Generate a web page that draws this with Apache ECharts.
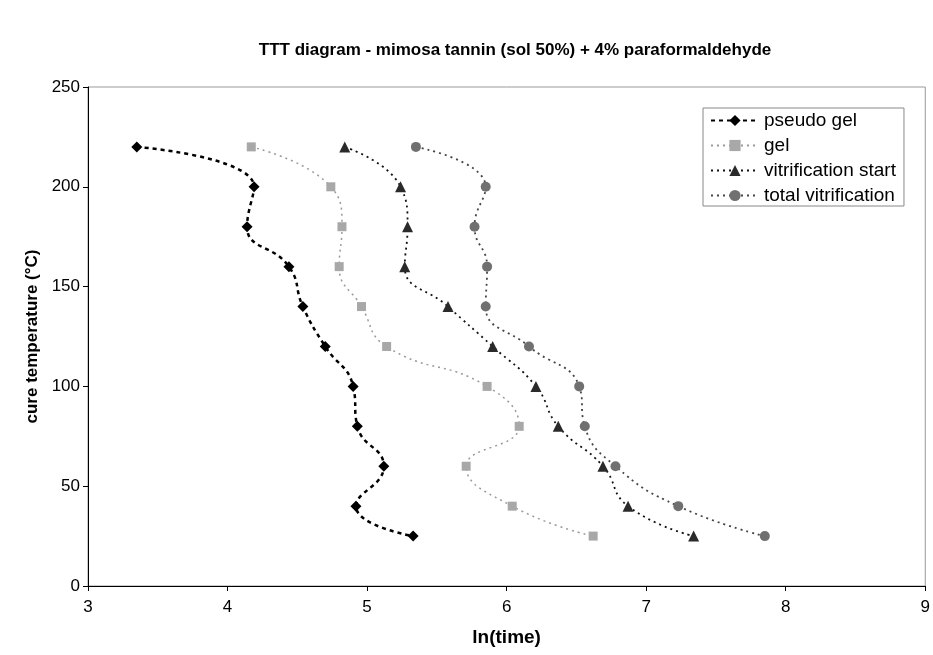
<!DOCTYPE html>
<html>
<head>
<meta charset="utf-8">
<script src="https://cdn.jsdelivr.net/npm/echarts@6/dist/echarts.min.js"></script>
<style>html,body{margin:0;padding:0;background:#fff}#c{width:933px;height:655px}</style>
</head>
<body>
<div id="c"></div>
<script>
const temperatures = [220, 200, 180, 160, 140, 120, 100, 80, 60, 40, 25];
const pseudoGel = [3.35, 4.19, 4.14, 4.44, 4.54, 4.70, 4.90, 4.93, 5.12, 4.92, 5.33];
const gel = [4.17, 4.74, 4.82, 4.80, 4.96, 5.14, 5.86, 6.09, 5.71, 6.04, 6.62];
const vitrificationStart = [4.84, 5.24, 5.29, 5.27, 5.58, 5.90, 6.21, 6.37, 6.69, 6.87, 7.34];
const totalVitrification = [5.35, 5.85, 5.77, 5.86, 5.85, 6.16, 6.52, 6.56, 6.78, 7.23, 7.85];
const seriesNames = ['pseudo gel', 'gel', 'vitrification start', 'total vitrification'];
const xTicks = [3, 4, 5, 6, 7, 8, 9];
const yTicks = [0, 50, 100, 150, 200, 250];

const pair = arr => arr.map((x, i) => [x, temperatures[i]]);
const FONT = '"Liberation Sans", Arial, sans-serif';

const styles = [
  {symbol: 'diamond', size: 11, color: '#000', line: '#000', width: 2.5, dash: [4, 4]},
  {symbol: 'rect', size: 9, color: '#a8a8a8', line: '#9a9a9a', width: 1.5, dash: [2, 4]},
  {symbol: 'triangle', size: 11, color: '#2a2a2a', line: '#111', width: 1.8, dash: [2, 4]},
  {symbol: 'circle', size: 10, color: '#707070', line: '#444', width: 1.8, dash: [2, 4]}
];
const datasets = [pseudoGel, gel, vitrificationStart, totalVitrification];

const chart = echarts.init(document.getElementById('c'), null, {renderer: 'canvas'});
chart.setOption({
  backgroundColor: '#fff',
  animation: false,
  title: {
    text: 'TTT diagram - mimosa tannin (sol 50%) + 4% paraformaldehyde',
    left: 510, top: 37, textAlign: 'center',
    textStyle: {fontFamily: FONT, fontSize: 17, fontWeight: 'bold', color: '#000'}
  },
  grid: {left: 88, right: 4, top: 87, bottom: 69, show: true, borderColor: '#999', borderWidth: 1},
  legend: {
    orient: 'vertical', left: 703, top: 108,
    data: seriesNames,
    itemWidth: 48, itemHeight: 14, itemGap: 6,
    padding: [3, 8, 1, 7],
    borderColor: '#888', borderWidth: 1,
    backgroundColor: '#fff',
    textStyle: {fontFamily: FONT, fontSize: 19, lineHeight: 19, color: '#000'}
  },
  xAxis: {
    type: 'value', min: xTicks[0], max: xTicks[xTicks.length - 1], interval: 1,
    name: 'ln(time)', nameLocation: 'middle', nameGap: 42,
    nameTextStyle: {fontFamily: FONT, fontSize: 19, fontWeight: 'bold', color: '#000'},
    axisLine: {lineStyle: {color: '#000', width: 1}},
    axisTick: {show: true, length: 5, lineStyle: {color: '#000'}},
    axisLabel: {fontFamily: FONT, fontSize: 17, color: '#000', margin: 13},
    splitLine: {show: false}
  },
  yAxis: {
    type: 'value', min: yTicks[0], max: yTicks[yTicks.length - 1], interval: 50,
    name: 'cure temperature (°C)', nameLocation: 'middle', nameGap: 40, nameRotate: 90,
    nameTextStyle: {fontFamily: FONT, fontSize: 17, fontWeight: 'bold', color: '#000'},
    axisLine: {show: true, lineStyle: {color: '#000', width: 1}},
    axisTick: {show: true, length: 5, lineStyle: {color: '#000'}},
    axisLabel: {fontFamily: FONT, fontSize: 17, color: '#000', margin: 8},
    splitLine: {show: false}
  },
  series: datasets.map((d, i) => ({
    name: seriesNames[i],
    type: 'line',
    data: pair(d),
    smooth: 0.5,
    symbol: styles[i].symbol,
    symbolSize: styles[i].size,
    showAllSymbol: true,
    itemStyle: {color: styles[i].color, borderWidth: 0},
    lineStyle: {color: styles[i].line, width: styles[i].width, type: styles[i].dash}
  }))
});
</script>
</body>
</html>
